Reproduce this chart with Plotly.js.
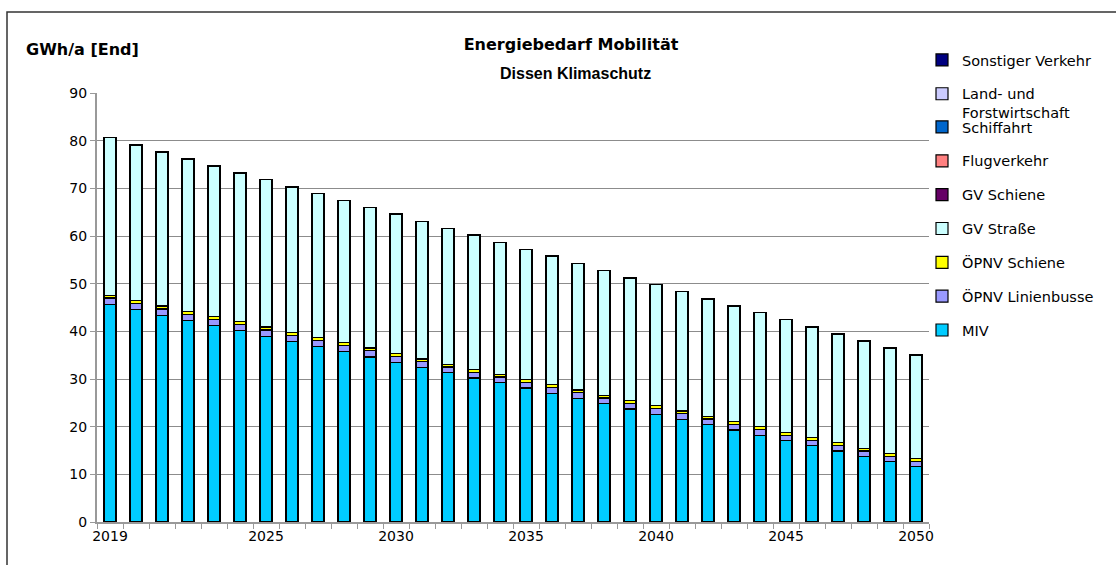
<!DOCTYPE html>
<html>
<head>
<meta charset="utf-8">
<script src="https://cdn.plot.ly/plotly-3.0.1.min.js"></script>
<style>html,body{margin:0;padding:0;background:#fff;}#chart{width:1116px;height:565px;}</style>
</head>
<body>
<div id="chart"></div>
<script>
var years = [2019,2020,2021,2022,2023,2024,2025,2026,2027,2028,2029,2030,2031,2032,2033,2034,2035,2036,2037,2038,2039,2040,2041,2042,2043,2044,2045,2046,2047,2048,2049,2050];
var miv = [45.7,44.6,43.4,42.3,41.2,40.1,39.0,37.8,36.8,35.7,34.6,33.5,32.4,31.3,30.2,29.2,28.1,27.0,25.9,24.8,23.7,22.6,21.5,20.4,19.3,18.2,17.1,16.0,14.9,13.8,12.7,11.6];
var oepnvBus = [1.3,1.3,1.3,1.3,1.3,1.3,1.3,1.3,1.3,1.3,1.3,1.3,1.2,1.2,1.2,1.2,1.2,1.2,1.2,1.2,1.2,1.2,1.2,1.2,1.2,1.2,1.1,1.1,1.1,1.1,1.1,1.1];
var oepnvSchiene = [0.6,0.6,0.6,0.6,0.6,0.6,0.6,0.6,0.6,0.6,0.6,0.6,0.6,0.6,0.6,0.6,0.6,0.6,0.6,0.6,0.6,0.6,0.6,0.6,0.6,0.6,0.6,0.6,0.6,0.6,0.6,0.6];
var gvStrasse = [33.0,32.6,32.3,31.9,31.6,31.2,30.9,30.6,30.2,29.8,29.4,29.1,28.8,28.4,28.1,27.6,27.2,26.9,26.5,26.1,25.7,25.4,25.0,24.6,24.2,23.9,23.6,23.2,22.8,22.4,22.1,21.7];
var gvSchiene = [0.1,0.1,0.1,0.1,0.1,0.1,0.1,0.1,0.1,0.1,0.1,0.1,0.1,0.1,0.1,0.1,0.1,0.1,0.1,0.1,0.1,0.1,0.1,0.1,0.1,0.1,0.1,0.1,0.1,0.1,0.1,0.1];
var flugverkehr = [0,0,0,0,0,0,0,0,0,0,0,0,0,0,0,0,0,0,0,0,0,0,0,0,0,0,0,0,0,0,0,0];
var schiffahrt = [0,0,0,0,0,0,0,0,0,0,0,0,0,0,0,0,0,0,0,0,0,0,0,0,0,0,0,0,0,0,0,0];
var landForst = [0,0,0,0,0,0,0,0,0,0,0,0,0,0,0,0,0,0,0,0,0,0,0,0,0,0,0,0,0,0,0,0];
var sonstiger = [0,0,0,0,0,0,0,0,0,0,0,0,0,0,0,0,0,0,0,0,0,0,0,0,0,0,0,0,0,0,0,0];
var tickYears = [2019,2025,2030,2035,2040,2045,2050];

var seriesNames = ["MIV","ÖPNV Linienbusse","ÖPNV Schiene","GV Straße","GV Schiene","Flugverkehr","Schiffahrt","Land- und<br>Forstwirtschaft","Sonstiger Verkehr"];
var seriesVals = [miv,oepnvBus,oepnvSchiene,gvStrasse,gvSchiene,flugverkehr,schiffahrt,landForst,sonstiger];
var colors = ["#00CCFF","#9999FF","#FFFF00","#CCFFFF","#660066","#FF8080","#0066CC","#CCCCFF","#000080"];

var traces = seriesNames.map(function(n,i){
  return {type:'bar', name:n, x:years, y:seriesVals[i], legendgroup:'g'+i, legendrank:100-i,
    legend: (i >= 7 ? 'legend2' : 'legend'),
    marker:{color:colors[i], line:{color:'#000', width:1.2}},
    hoverinfo:'x+y+name'};
});

var font = "DejaVu Sans, Verdana, sans-serif";
var legendFont = {family:font, size:14.5, color:'#000'};
var layout = {
  width:1116, height:565,
  margin:{l:97, r:187, t:93, b:43},
  paper_bgcolor:'#fff', plot_bgcolor:'#fff',
  barmode:'stack', bargap:0.54,
  font:{family:font, size:12, color:'#000'},
  title:{text:'<b>Energiebedarf Mobilität</b>', font:{family:font, size:16, color:'#000'}, x:(571-97)/832, xanchor:'center', xref:'paper', y:0.922, yanchor:'middle'},
  xaxis:{type:'linear', range:[2018.5,2050.5], tickvals:tickYears, ticktext:tickYears.map(String),
    ticks:'', showgrid:false, zeroline:false, showline:true, linecolor:'#999', linewidth:2,
    tickfont:{family:font, size:14, color:'#000'},
    minor:{ticks:'outside', tick0:2018.5, dtick:1, ticklen:5, tickcolor:'#999', tickwidth:1, showgrid:false}},
  yaxis:{range:[0,90], dtick:10, tick0:0, ticks:'outside', ticklen:5, tickcolor:'#999', tickwidth:1,
    showgrid:true, gridcolor:'#8c8c8c', gridwidth:1, zeroline:false, showline:true, linecolor:'#999', linewidth:2,
    tickfont:{family:font, size:14, color:'#000'}},
  legend:{x:(922-97)/832, xanchor:'left', y:1.0+(93-111)/429, yanchor:'top', traceorder:'grouped', tracegroupgap:12,
    font:legendFont, bgcolor:'rgba(0,0,0,0)', itemwidth:30, maxheight:500},
  legend2:{x:(922-97)/832, xanchor:'left', y:1.0+(93-44)/429, yanchor:'top', traceorder:'grouped', tracegroupgap:12,
    font:legendFont, bgcolor:'rgba(0,0,0,0)', itemwidth:30, valign:'top', maxheight:500},
  annotations:[
    {text:'<b>Dissen Klimaschutz</b>', xref:'paper', yref:'paper', x:(575-97)/832, y:1.0+(93-73)/429, xanchor:'center', yanchor:'middle', showarrow:false, font:{family:'Liberation Sans, Arial, sans-serif', size:16, color:'#000'}},
    {text:'<b>GWh/a [End]</b>', xref:'paper', yref:'paper', x:(24-97)/832, y:1.0+(93-50)/429, xanchor:'left', yanchor:'middle', showarrow:false, font:{family:font, size:16, color:'#000'}}
  ],
  shapes:[
    {type:'rect', xref:'paper', yref:'paper', x0:(7-97)/832, x1:1.4, y0:-0.3, y1:1.0+(93-12)/429, line:{color:'#333', width:1.5}, fillcolor:'rgba(0,0,0,0)', layer:'below'}
  ],
  showlegend:true
};
Plotly.newPlot('chart', traces, layout, {displayModeBar:false, staticPlot:true});
</script>
</body>
</html>
